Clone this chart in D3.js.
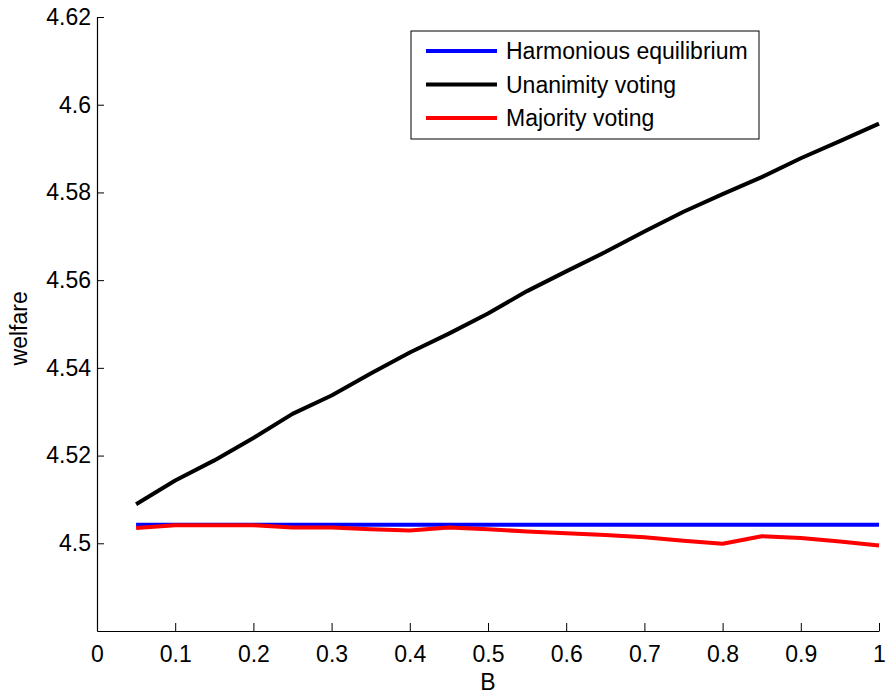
<!DOCTYPE html>
<html>
<head>
<meta charset="utf-8">
<script src="https://cdn.jsdelivr.net/npm/d3@7"></script>
<style>
  body { margin: 0; background: #fff; }
  svg { display: block; font-family: "Liberation Sans", Arial, sans-serif; }
</style>
</head>
<body>
<div id="chart"></div>
<script>
// Données
const B = [0.05, 0.1, 0.15, 0.2, 0.25, 0.3, 0.35, 0.4, 0.45, 0.5,
           0.55, 0.6, 0.65, 0.7, 0.75, 0.8, 0.85, 0.9, 0.95, 1.0];
const harmonious = [4.5042, 4.5042, 4.5042, 4.5042, 4.5042, 4.5042, 4.5042, 4.5042, 4.5042, 4.5042,
                    4.5042, 4.5042, 4.5042, 4.5042, 4.5042, 4.5042, 4.5042, 4.5042, 4.5042, 4.5042];
const unanimity = [4.5089, 4.5143, 4.5189, 4.5240, 4.5295, 4.5337, 4.5387, 4.5435, 4.5478, 4.5524,
                   4.5575, 4.5620, 4.5664, 4.5711, 4.5756, 4.5796, 4.5835, 4.5878, 4.5917, 4.5957];
const majority = [4.5035, 4.5041, 4.5041, 4.5041, 4.5036, 4.5036, 4.5032, 4.5029, 4.5036, 4.5032,
                  4.5027, 4.5023, 4.5019, 4.5014, 4.5006, 4.4999, 4.5016, 4.5012, 4.5004, 4.4995];
const xTicks = [0, 0.1, 0.2, 0.3, 0.4, 0.5, 0.6, 0.7, 0.8, 0.9, 1];
const yTicks = [4.5, 4.52, 4.54, 4.56, 4.58, 4.6, 4.62];

const series = [
    {name: "Harmonious equilibrium", values: harmonious, color: "#0000ff"},
    {name: "Unanimity voting", values: unanimity, color: "#000000"},
    {name: "Majority voting", values: majority, color: "#ff0000"}
];

const W = 886, H = 698;
const margin = {top: 17, right: 7, bottom: 67, left: 97};
const width = W - margin.left - margin.right;
const height = H - margin.top - margin.bottom;
const fontSize = "23px";

const svg = d3.select("#chart").append("svg")
    .attr("width", W)
    .attr("height", H);

const g = svg.append("g")
    .attr("transform", "translate(" + margin.left + "," + margin.top + ")");

const x = d3.scaleLinear().domain([0, 1]).range([0, width]);
const y = d3.scaleLinear().domain([4.48, 4.62]).range([height, 0]);

// Axes (ticks vers l'intérieur, style MATLAB)
const xAxis = g.append("g")
    .attr("transform", "translate(0," + height + ")")
    .call(d3.axisBottom(x).tickValues(xTicks).tickSizeInner(-8).tickSizeOuter(0).tickPadding(15)
        .tickFormat(d => d3.format("")(d)));

const yAxis = g.append("g")
    .call(d3.axisLeft(y).tickValues(yTicks).tickSizeInner(-7).tickSizeOuter(0).tickPadding(6)
        .tickFormat(d => d3.format("")(+d.toFixed(2))));

[xAxis, yAxis].forEach(a => {
    a.select(".domain").attr("stroke", "#000").attr("stroke-width", 1.2);
    a.selectAll(".tick line").attr("stroke", "#000");
    a.selectAll("text").attr("fill", "#000").style("font-size", fontSize);
});
xAxis.selectAll("text").attr("dy", "0.71em");

// Lignes
const line = d3.line()
    .x((d, i) => x(B[i]))
    .y(d => y(d));

g.selectAll(".serie")
    .data(series)
    .enter().append("path")
    .attr("class", "serie")
    .attr("d", d => line(d.values))
    .attr("fill", "none")
    .attr("stroke", d => d.color)
    .attr("stroke-width", 4)
    .attr("stroke-linejoin", "round");

// Titres des axes
svg.append("text")
    .attr("x", margin.left + x(0.5))
    .attr("y", 690)
    .attr("text-anchor", "middle")
    .style("font-size", fontSize)
    .text("B");

svg.append("text")
    .attr("transform", "translate(27," + (margin.top + y(4.549)) + ") rotate(-90)")
    .attr("text-anchor", "middle")
    .style("font-size", fontSize)
    .text("welfare");

// Légende
const legend = svg.append("g").attr("transform", "translate(411,31)");
legend.append("rect")
    .attr("width", 348)
    .attr("height", 108)
    .attr("fill", "#fff")
    .attr("stroke", "#000")
    .attr("stroke-width", 1);

const item = legend.selectAll(".item")
    .data(series)
    .enter().append("g")
    .attr("class", "item")
    .attr("transform", (d, i) => "translate(0," + (20 + i * 33.5) + ")");

item.append("line")
    .attr("x1", 15).attr("x2", 86)
    .attr("stroke", d => d.color)
    .attr("stroke-width", 4);

item.append("text")
    .attr("x", 95)
    .attr("dy", "0.35em")
    .style("font-size", fontSize)
    .text(d => d.name);
</script>
</body>
</html>
